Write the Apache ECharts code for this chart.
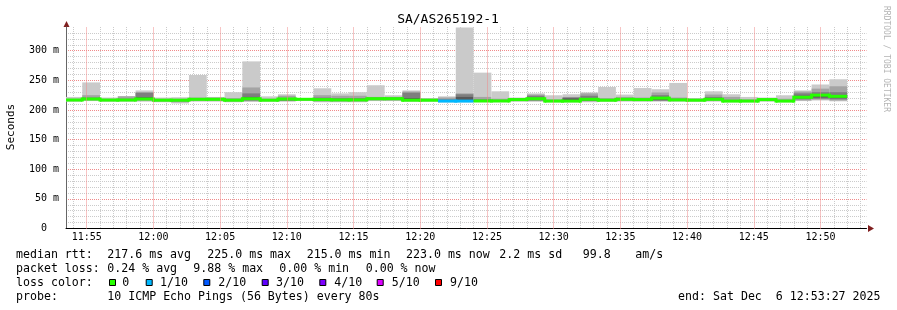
<!DOCTYPE html>
<html><head><meta charset="utf-8">
<script src="https://cdn.jsdelivr.net/npm/echarts@6/dist/echarts.min.js"></script>
<style>html,body{margin:0;padding:0;background:#fff}#c{width:897px;height:310px}</style>
</head><body><div id="c"></div>
<script>
// ---- data (times in seconds of day) ----
const STEP = 80;
const firstBarStart = 42800;          // 11:53:20
const viewStart = 42807;              // 11:53:27
const viewEnd = 46407;                // 12:53:27
const yMax = 340;
const timeLabels = ['11:55','12:00','12:05','12:10','12:15','12:20','12:25','12:30','12:35','12:40','12:45','12:50'];
const timeLabelValues = [42900,43200,43500,43800,44100,44400,44700,45000,45300,45600,45900,46200];
const minuteGridFirst = 42840, minuteGridLast = 46380;

const ping1 = [214,215,214,214,214,213,211,214,214,213, 213.5,214,214,215,213,213,213,215,215,214, 214,213,213,213,213,214,214,213,213,213, 214,214,214,214,214,214,214,213,213,214, 213,215,216,214.6];
const ping2 = [215,216,215,215,216,214.5,213,215.5,215.5,214.5, 215,215,215,216,214.5,214.5,214.5,216,216,215, 215,213.5,213.5,213.5,214,215,215,213.5,213.5,214.5, 215,215.5,215,215.5,215,215,215.5,213.5,213.5,215.5, 213.5,216,217.5,216];
const ping3 = [215.5,217,215.5,215.5,216.5,215,214.5,216.5,216.5,215, 216,215.5,216,217,215,215,215,217,217,215.5, 215.5,214,214,214,214.5,215.2,216,214,214,215.5, 215.5,216.5,216,216,216,215.5,216.5,214,214,216, 214,218,219,218];
const ping4 = [216,217.5,216,216,217,215.5,215.5,217,217,215.5, 217,216,216.5,217.5,216,216,216,217.5,217.5,216, 216,214.2,214.2,214.5,215,215.5,217,214.2,214.2,216, 216,217,216.5,216.5,216.5,216,217,214.2,214.2,216.5, 214.2,220,221,220];
const ping5 = [216.5,218,216.5,216.5,218,216,216,217.5,217.5,216, 218,216.5,217,218,217,217,217,218.5,218.5,216.5, 216.5,214.6,214.6,214.8,214.8,216.5,218,214.6,214.6,217, 216.5,217.5,217,219,217,216.5,217.5,214.6,214.6,217, 214.6,221,224.5,222.5];
const ping6 = [217,219,217,217,219,217,217,218.5,218.5,217, 220,217,218,218.5,218,217.5,217.5,219.5,219.5,217, 217,215.4,215.4,215.5,215.5,218.5,219,215.4,215.4,218.5, 217,218.5,218,221,217.5,217,218.5,215.4,215.4,218, 215.4,222,225.5,223.5];
const ping7 = [217.5,220,217.5,218,221.5,217.5,217.5,219,219,217.5, 222,217.5,219,219,219,218,218,220,220,220, 217.5,216,222,216,216,219,220,215.5,219.5,219.5, 217.5,219,218.5,222,218,217.5,219,215.5,215.5,218.5, 215.5,224,227,225];
const ping8 = [218,221,218,219,229,218,218,220,220,218, 228,218,220,219.5,221,220,220,221,221,229, 218,218,226.5,218,217,219.5,224,216,221,224, 218,220,219,225,219,218,222,217,216,219, 216,228,230,230];
const ping9 = [219,225,219,223,230,219,219,221,221,220, 238,219,224,219.7,225,224,224,222,222,231, 219,221,228,222,219,220,226,218,222,228, 220,222,221,229.5,221,219,226,222,218,220, 219,231,236,240];
const ping10 = [222,246.5,221,223.5,233,221,221.5,259,222,230, 282,223,226.5,219.8,236.6,228,230,241.7,224.8,233, 220,223,339,263,231.5,221,228,224.8,226.5,229.7, 238.8,226,237,235,245.6,220,231.5,226.5,222,221, 224.8,233,243,251.8];
const median = [216.8,218.5,216.7,216.8,218.5,216.5,216.5,218,218,216.5, 219,216.5,218.5,218,217.5,217,217,219,219,216.5, 216.5,215,215,215.2,215.2,217.5,219,215,215,218, 216.5,218,217.5,220,217,216.5,218,215,215,217.5, 215,221.5,225,223];
const lossIdx = [0,0,0,0,0,0,0,0,0,0, 0,0,0,0,0,0,0,0,0,0, 0,1,1,0,0,0,0,0,0,0, 0,0,0,0,0,0,0,0,0,0, 0,0,0,0];

const lossColors = ['#26ff00','#00b8ff','#0059ff','#5e00ff','#7e00ff','#dd00ff','#ff0000'];
const lossLabels = ['0','1/10','2/10','3/10','4/10','5/10','9/10'];
const smokeColors = ['#cacaca','#a4a4a4','#7e7e7e','#585858','#323232'];

const line1 = [['median rtt:',16],['217.6 ms avg',107.3],['225.0 ms max',207.3],['215.0 ms min',306.7],['223.0 ms now',406],['2.2 ms sd',499.3],['99.8',582.7],['am/s',635.3]];
const line2 = [['packet loss:',16],['0.24 % avg',107.3],['9.88 % max',193.3],['0.00 % min',279.3],['0.00 % now',365.7]];
const line4 = [['probe:',16],['10 ICMP Echo Pings (56 Bytes) every 80s',107.3]];
const endText = 'end: Sat Dec  6 12:53:27 2025';
const lossBoxX = [109,145.7,203.3,261.7,319.3,376.7,435];
const lossTextX = [122.3,160,218.3,276,334.3,391.7,450];

// ---- build ----
const pings = [ping1,ping2,ping3,ping4,ping5,ping6,ping7,ping8,ping9,ping10];
const data = median.map((m, i) => {
  const row = [firstBarStart + i*STEP, firstBarStart + (i+1)*STEP];
  pings.forEach(p => row.push(p[i]));
  row.push(m, lossIdx[i]);
  return row;
});
const minuteTicks = [];
for (let t = minuteGridFirst; t <= minuteGridLast; t += 60) minuteTicks.push(t);
const minorTicks = minuteTicks.filter(t => t % 300 !== 0);

const GRID_MINOR = '#cbcbcb';
const GRID_MAJOR = '#f08a8a';
const MONO = '"DejaVu Sans Mono", monospace';
const graphics = [];
function txt(s, x, y, size, opts) {
  graphics.push(Object.assign({type:'text', x, y, silent:true, style:Object.assign({text:s, font:size+'px '+MONO, fill:'#000', textAlign:'left', textVerticalAlign:'middle'}, opts||{})}));
}
txt('SA/AS265192-1', 448, 20, 13, {textAlign:'center'});
graphics.push({type:'text', x:11, y:127, rotation:Math.PI/2, silent:true, style:{text:'Seconds', font:'11px '+MONO, fill:'#000', textAlign:'center', textVerticalAlign:'middle'}});
graphics.push({type:'text', x:886, y:59, rotation:-Math.PI/2, silent:true, style:{text:'RRDTOOL / TOBI OETIKER', font:'8px '+MONO, fill:'#b4b4b4', textAlign:'center', textVerticalAlign:'middle'}});
line1.forEach(([s,x]) => txt(s, x, 255, 11.6));
line2.forEach(([s,x]) => txt(s, x, 268.5, 11.6));
txt('loss color:', 16, 282.5, 11.6);
lossLabels.forEach((s,i) => {
  graphics.push({type:'rect', silent:true, shape:{x:lossBoxX[i]+0.5, y:279.5, width:6, height:6}, style:{fill:lossColors[i], stroke:'#000', lineWidth:1}});
  txt(s, lossTextX[i], 282.5, 11.6);
});
line4.forEach(([s,x]) => txt(s, x, 297, 11.6));
txt(endText, 880.5, 297, 11.6, {textAlign:'right'});
// axis arrows
graphics.push({type:'polygon', silent:true, shape:{points:[[63.5,27],[69.5,27],[66.5,21]]}, style:{fill:'#801f1f'}});
graphics.push({type:'polygon', silent:true, shape:{points:[[868,225],[868,232],[874,228.5]]}, style:{fill:'#801f1f'}});

function renderBar(params, api) {
  const t0 = api.value(0), t1 = api.value(1);
  const cs = params.coordSys;
  const children = [];
  for (let b = 0; b < 5; b++) {
    const lo = api.value(2 + b), hi = api.value(11 - b);
    const a = api.coord([t0, lo]), c = api.coord([t1, hi]);
    const r = echarts.graphic.clipRectByRect({x:a[0], y:c[1], width:c[0]-a[0], height:a[1]-c[1]}, cs);
    if (r) children.push({type:'rect', shape:r, style:{fill:smokeColors[b]}});
  }
  const m = api.value(12), li = api.value(13);
  const p0 = api.coord([t0, m]), p1 = api.coord([t1, m]);
  const mr = echarts.graphic.clipRectByRect({x:p0[0], y:p0[1]-1.5, width:p1[0]-p0[0], height:3}, cs);
  if (mr) children.push({type:'rect', shape:mr, style:{fill:lossColors[li]}, z2:10});
  const idx = params.dataIndexInside;
  if (idx > 0 && api.value(13, idx-1) === li) {
    const pm = api.value(12, idx-1);
    const q = api.coord([t0, pm]);
    const top = Math.min(q[1], p0[1]) - 1.5, bot = Math.max(q[1], p0[1]) + 1.5;
    children.push({type:'rect', shape:{x:p0[0]-1.5, y:top, width:3, height:bot-top}, style:{fill:lossColors[li]}, z2:10});
  }
  return {type:'group', children};
}

const chart = echarts.init(document.getElementById('c'), null, {renderer:'canvas'});
chart.setOption({
  animation: false,
  backgroundColor: '#fff',
  grid: {left:66, right:30.5, top:27, bottom:81.5, containLabel:false},
  xAxis: [{
    type:'value', min:viewStart, max:viewEnd, z:1,
    axisLine:{show:false},
    axisTick:{show:false, customValues:minorTicks},
    axisLabel:{show:false},
    splitLine:{show:true, lineStyle:{color:GRID_MINOR, type:'dotted', width:1}}
  },{
    type:'value', min:viewStart, max:viewEnd, position:'bottom', z:2,
    axisLine:{show:true, onZero:false, lineStyle:{color:'#000', width:1}},
    axisTick:{show:false, customValues:timeLabelValues},
    axisLabel:{customValues:timeLabelValues, margin:4, fontFamily:'DejaVu Sans Mono', fontSize:10, color:'#000',
      formatter:(v) => { const k = timeLabelValues.indexOf(v); return k >= 0 ? timeLabels[k] : ''; }},
    splitLine:{show:false}
  }],
  yAxis: {
    type:'value', min:0, max:yMax, interval:10,
    axisLine:{show:true, lineStyle:{color:'#666', width:1}},
    axisTick:{show:false},
    axisLabel:{margin:7, fontFamily:'DejaVu Sans Mono', fontSize:10, color:'#000', showMaxLabel:false,
      formatter:(v) => (v % 50 === 0 && v <= 300) ? (v === 0 ? '0  ' : v + ' m') : ''},
    splitLine:{show:true, showMinLine:true, showMaxLine:false, lineStyle:{color:[GRID_MAJOR,GRID_MINOR,GRID_MINOR,GRID_MINOR,GRID_MINOR], type:'dotted', width:1}}
  },
  series: [{
    type:'line', xAxisIndex:1, data:[], z:1, silent:true,
    markLine:{silent:true, symbol:['none','none'], animation:false, label:{show:false},
      lineStyle:{color:GRID_MAJOR, type:'dotted', width:1},
      emphasis:{disabled:true},
      data: timeLabelValues.map(v => ({xAxis:v}))}
  },{
    type:'custom', renderItem:renderBar, data:data, xAxisIndex:1, encode:{x:[0,1], y:[2,11]}, z:3, silent:true
  }],
  graphic: graphics
});
</script>
</body></html>
